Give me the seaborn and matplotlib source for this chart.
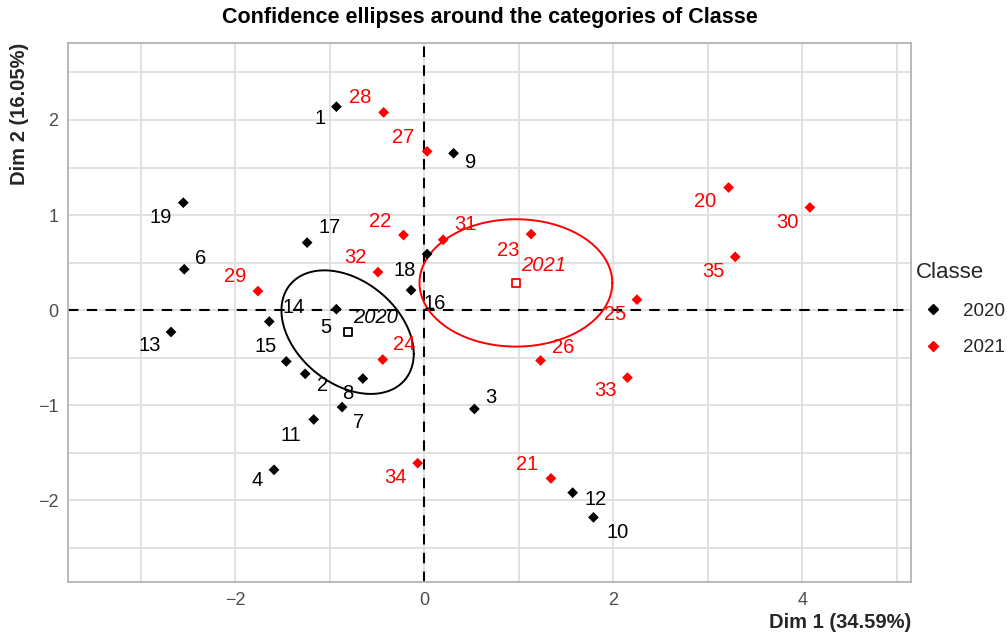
import numpy as np
import pandas as pd
import matplotlib
matplotlib.use("Agg")
import matplotlib.pyplot as plt
import seaborn as sns
from matplotlib.lines import Line2D

# ---------------- data ----------------
labels_2020 = [str(i) for i in range(1, 20)]
x_2020 = [-0.93, -1.26, 0.53, -1.59, -0.93, -2.54, -0.87, -0.65, 0.31, 1.79,
          -1.17, 1.57, -2.68, -1.64, -1.46, 0.03, -1.24, -0.14, -2.55]
y_2020 = [2.14, -0.67, -1.04, -1.68, 0.01, 0.43, -1.02, -0.72, 1.65, -2.18,
          -1.15, -1.92, -0.23, -0.12, -0.54, 0.59, 0.71, 0.21, 1.13]

labels_2021 = [str(i) for i in range(20, 36)]
x_2021 = [3.22, 1.34, -0.22, 1.13, -0.44, 2.25, 1.23, 0.03, -0.43, -1.76,
          4.08, 0.20, -0.49, 2.15, -0.07, 3.29]
y_2021 = [1.29, -1.77, 0.79, 0.80, -0.52, 0.11, -0.53, 1.67, 2.08, 0.20,
          1.08, 0.74, 0.40, -0.71, -1.61, 0.56]

classes = ["2020", "2021"]
# ellipse parameters per class: sd along x, sd along y, covariance
ell_sx = [0.70, 1.02]
ell_sy = [0.65, 0.67]
ell_cov = [-0.16, 0.0]

xticks = [-2, 0, 2, 4]
yticks = [-2, -1, 0, 1, 2]

# label placement offsets (pixels, from ggrepel-like layout)
label_offsets = {
    "1": (-16, 12), "2": (17, 12), "3": (16, -11), "4": (-17, 11), "5": (-11, 18),
    "6": (16, -11), "7": (16, 15), "8": (-15, 15), "9": (17, 9), "10": (24, 15),
    "11": (-23, 16), "12": (23, 7), "13": (-21, 14), "14": (24, -14), "15": (-21, -15),
    "16": (8, 49), "17": (23, -15), "18": (-6, -20), "19": (-23, 15),
    "20": (-23, 14), "21": (-24, -14), "22": (-23, -14), "23": (-23, 16), "24": (21, -15),
    "25": (-22, 15), "26": (23, -13), "27": (-24, -14), "28": (-23, -15), "29": (-23, -15),
    "30": (-22, 15), "31": (22, -15), "32": (-23, -15), "33": (-22, 13), "34": (-22, 14),
    "35": (-22, 15), "c2020": (28, -15), "c2021": (28, -17),
}

df = pd.DataFrame({
    "Dim1": x_2020 + x_2021,
    "Dim2": y_2020 + y_2021,
    "label": labels_2020 + labels_2021,
    "Classe": ["2020"] * len(x_2020) + ["2021"] * len(x_2021),
})
palette = {"2020": "black", "2021": "red"}

# ---------------- figure ----------------
W, H = 1007, 635
fig = plt.figure(figsize=(W / 100, H / 100), dpi=100)
sns.set_style("white")
plt.rcParams["font.family"] = ["Liberation Sans", "DejaVu Sans"]

L, R, T, B = 68, 911, 43, 582
ax = fig.add_axes([L / W, 1 - B / H, (R - L) / W, (B - T) / H])

ax.set_xlim(-3.77, 5.15)
ax.set_ylim(-2.86, 2.81)

# grid (major + minor)
ax.set_xticks(xticks)
ax.set_xticks([-3, -1, 1, 3, 5], minor=True)
ax.set_yticks(yticks)
ax.set_yticks([-2.5, -1.5, -0.5, 0.5, 1.5, 2.5], minor=True)
ax.grid(True, which="both", color="#DEDEDE", linewidth=1.3)
ax.set_axisbelow(True)
ax.tick_params(which="minor", length=0)
ax.tick_params(which="major", length=4, width=1, color="#B3B3B3",
               labelsize=13, labelcolor="#4D4D4D", pad=3)
ax.set_xticklabels([str(t).replace("-", "\u2212") for t in xticks])
ax.set_yticklabels([str(t).replace("-", "\u2212") for t in yticks])
for s in ax.spines.values():
    s.set_color("#B3B3B3")
    s.set_linewidth(1.3)

ax.axhline(0, color="black", linestyle=(0, (5, 4)), linewidth=1.5, zorder=1.5)
ax.axvline(0, color="black", linestyle=(0, (5, 4)), linewidth=1.5, zorder=1.5)

sns.scatterplot(data=df, x="Dim1", y="Dim2", hue="Classe", palette=palette,
                marker="D", s=30, edgecolor="none", legend=False, ax=ax, zorder=3)

ax.set_xlabel("")
ax.set_ylabel("")

for _, r in df.iterrows():
    dx, dy = label_offsets[r["label"]]
    ax.annotate(r["label"], (r["Dim1"], r["Dim2"]), xytext=(dx * 0.72, -dy * 0.72),
                textcoords="offset points", ha="center", va="center",
                fontsize=14.5, color=palette[r["Classe"]], zorder=4)

# class centres and confidence ellipses
t = np.linspace(0, 2 * np.pi, 300)
for i, c in enumerate(classes):
    sub = df[df["Classe"] == c]
    cx, cy = sub["Dim1"].mean(), sub["Dim2"].mean()
    cov = np.array([[ell_sx[i] ** 2, ell_cov[i]], [ell_cov[i], ell_sy[i] ** 2]])
    Lc = np.linalg.cholesky(cov)
    pts = Lc @ np.vstack([np.cos(t), np.sin(t)])
    ax.plot(cx + pts[0], cy + pts[1], color=palette[c], linewidth=1.4, zorder=2.5)
    ax.scatter([cx], [cy], marker="s", s=40, facecolor="white",
               edgecolor=palette[c], linewidth=1.3, zorder=3.5)
    dx, dy = label_offsets["c" + c]
    ax.annotate(c, (cx, cy), xytext=(dx * 0.72, -dy * 0.72), textcoords="offset points",
                ha="center", va="center", fontsize=14.5, style="italic",
                color=palette[c], zorder=4)

# titles
fig.text((L + R) / 2 / W, 1 - 18 / H, "Confidence ellipses around the categories of Classe",
         ha="center", va="center", fontsize=15.5, fontweight="bold", color="black")
fig.text(R / W, 1 - 622 / H, "Dim 1 (34.59%)", ha="right", va="center",
         fontsize=14.5, fontweight="bold")
fig.text(20 / W, 1 - T / H, "Dim 2 (16.05%)", ha="center", va="top",
         rotation=90, fontsize=14.5, fontweight="bold")

# legend
handles = [Line2D([], [], marker="D", linestyle="none", color=palette[c],
                  markersize=5.5) for c in classes]
leg = fig.legend(handles, classes, title="Classe", loc="center left",
                 bbox_to_anchor=(916 / W, 1 - 309 / H), frameon=False,
                 fontsize=13.5, title_fontsize=16, handlelength=1.8,
                 handletextpad=0.7, labelspacing=1.05, borderaxespad=0,
                 borderpad=0)
leg._legend_box.align = "left"

fig.savefig("out.png", dpi=100)
